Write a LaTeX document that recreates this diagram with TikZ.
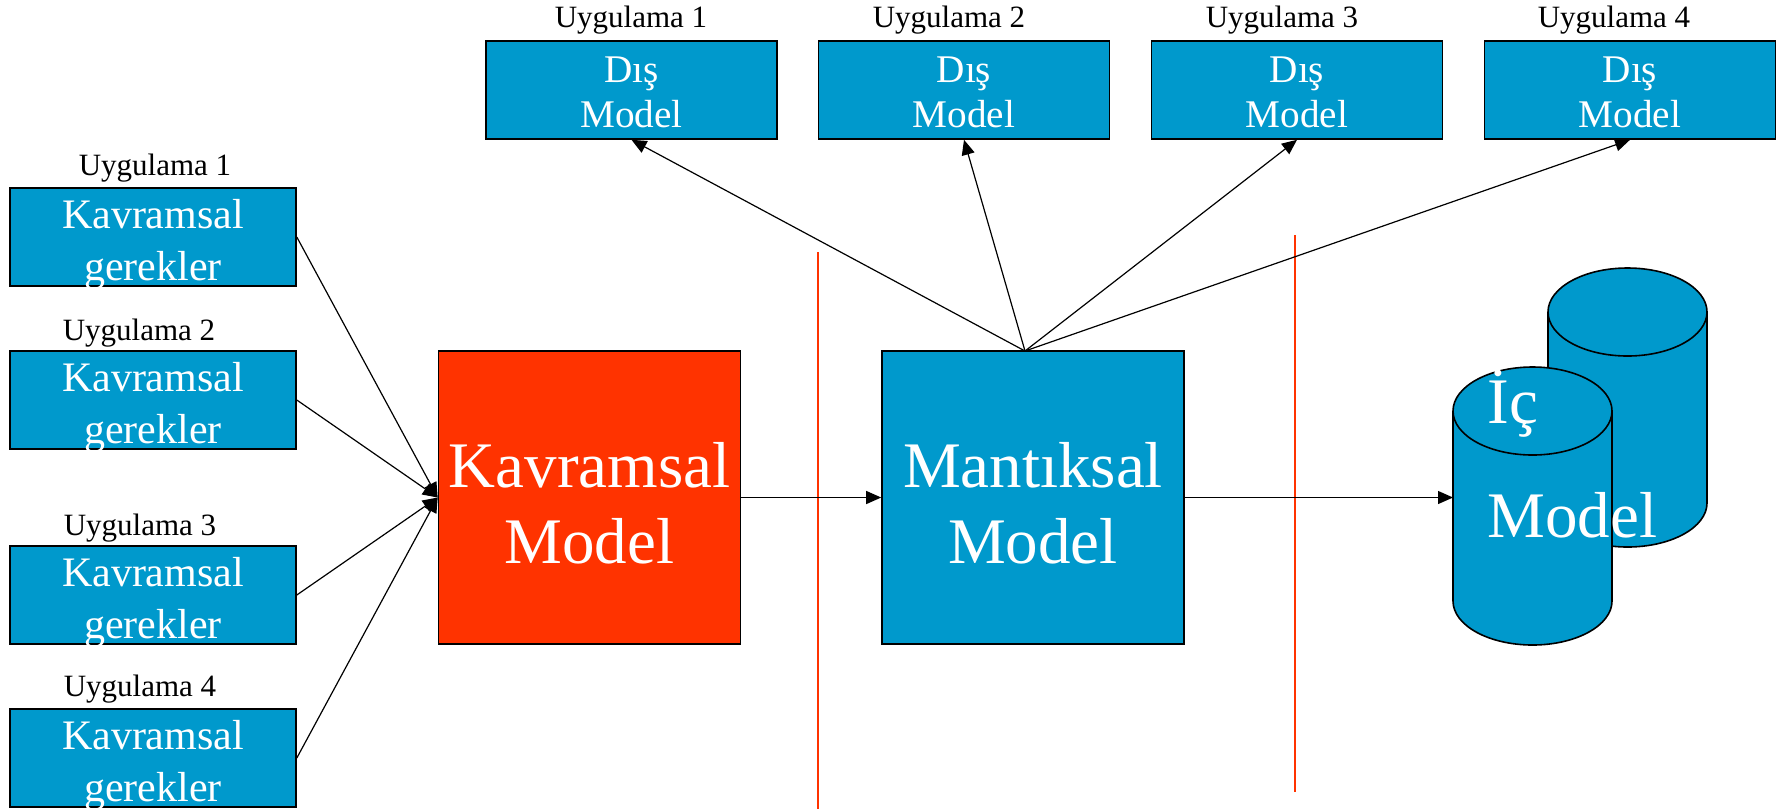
\documentclass[tikz,border=0pt]{standalone}
\usepackage{fontspec}
\setmainfont{Liberation Serif}
\usetikzlibrary{positioning,arrows.meta,calc}
\definecolor{kutumavi}{RGB}{0,153,204}
\definecolor{kirmizi}{RGB}{255,51,0}
\newcommand{\ust}[1]{\rule{0pt}{#1}}

\begin{document}
\begin{tikzpicture}[x=0.5pt,y=-0.5pt,ok/.style={-{Triangle[length=7.5pt,width=6.5pt]}, line width=0.6pt}, lbl/.style={inner sep=0pt, font=\fontsize{15.5}{18}\selectfont}]
\tikzstyle{kutu}=[draw, line width=0.8pt, fill=kutumavi, text=white, inner sep=0pt, align=center]
\tikzstyle{gerek}=[kutu, minimum width=143pt, minimum height=49pt, font=\fontsize{21}{26}\selectfont]
\tikzstyle{dis}=[kutu, minimum width=145.5pt, minimum height=49pt, font=\fontsize{19.6}{22.5}\selectfont]
\tikzstyle{ana}=[kutu, minimum width=151pt, minimum height=146.5pt, font=\fontsize{32.5}{38}\selectfont]
\tikzstyle{cyl}=[draw, line width=0.8pt, fill=kutumavi]
\useasboundingbox (0,0) rectangle (1782,810);
% sol taraf
\foreach \i/\y in {1/237,2/400,3/595,4/758}{\node[gerek] (g\i) at (153,\y) {\ust{17.3pt}Kavramsal\\\smash{gerekler}};}
\foreach \i/\x/\y in {1/155/168,2/139/333,3/140/528,4/140/689}{\node[lbl] (u\i) at (\x,\y) {Uygulama \i};}
% modeller
\node[ana, fill=kirmizi] (kav) at (589.5,497.5) {\ust{28pt}Kavramsal\\Model};
\node[ana] (man) at (1033,497.5) {\ust{28pt}Mantıksal\\Model};
\foreach \i/\x in {1/631.5,2/964,3/1297,4/1630}{\node[dis] (d\i) at (\x,90) {\ust{15pt}Dış\\Model};}
\foreach \i/\x in {1/631,2/949,3/1282,4/1614}{\node[lbl] (du\i) at (\x,20) {Uygulama \i};}
% ayirici cizgiler
\draw[kirmizi, line width=0.6pt] (818,252) -- (818,809);
\draw[kirmizi, line width=0.6pt] (1295,235) -- (1295,792);
% ic model
\draw[cyl] (1548,312) -- (1548,503) arc[start angle=180,end angle=0,x radius=79.5,y radius=44] -- (1707,312);
\draw[cyl] (1627.5,312) ellipse[x radius=79.5,y radius=44];
\draw[cyl] (1453,411) -- (1453,601) arc[start angle=180,end angle=0,x radius=79.5,y radius=44] -- (1612,411);
\draw[cyl] (1532.5,411) ellipse[x radius=79.5,y radius=44];
\node[anchor=base, text=white, inner sep=0pt, font=\fontsize{32.5}{38}\selectfont] (ic) at (1513,423) {İç};
\node[anchor=base, text=white, inner sep=0pt, font=\fontsize{32.5}{38}\selectfont] (icm) at (1572.5,537) {Model};
\coordinate (icgiris) at (1453,497.5);
\coordinate (tepe) at (1025,351);
% oklar
\foreach \i in {1,...,4}{\draw[ok] (g\i.east) -- (kav.west);}
\foreach \i in {1,...,4}{\draw[ok] (tepe) -- (d\i.south);}
\draw[ok] (kav) -- (man);
\draw[ok] (man) -- (icgiris);
\end{tikzpicture}
\end{document}
